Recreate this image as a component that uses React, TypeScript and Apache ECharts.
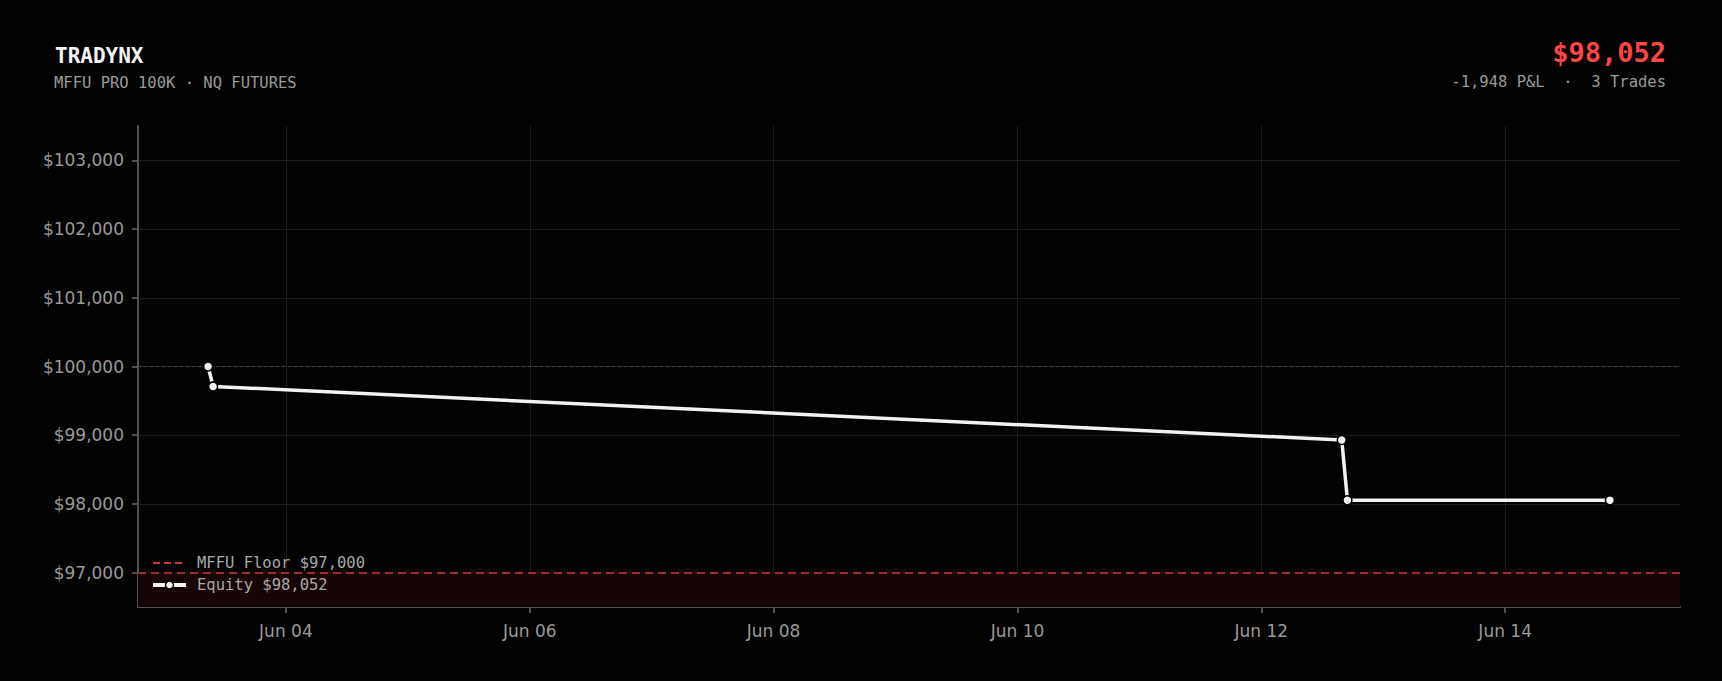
import React, { useEffect, useRef } from 'react';
import * as echarts from 'echarts';

// ---- data ----
const equityTimes = [
  '2025-06-03T08:41:00Z',
  '2025-06-03T09:40:00Z',
  '2025-06-12T15:50:00Z',
  '2025-06-12T16:57:00Z',
  '2025-06-14T20:37:00Z',
];
const equityValues = [100000, 99710, 98930, 98052, 98052];
const tickDates = ['2025-06-04', '2025-06-06', '2025-06-08', '2025-06-10', '2025-06-12', '2025-06-14'];
const yTicks = [97000, 98000, 99000, 100000, 101000, 102000, 103000];
const yMin = 96500;
const yMax = 103500;
const floorValue = 97000;
const startBalance = 100000;
const titleText = 'TRADYNX';
const subtitleText = 'MFFU PRO 100K · NQ FUTURES';
const pnlValue = -1948;
const tradeCount = 3;

const MONTHS = ['Jan', 'Feb', 'Mar', 'Apr', 'May', 'Jun', 'Jul', 'Aug', 'Sep', 'Oct', 'Nov', 'Dec'];
const money = (v: number) => '$' + Math.round(v).toLocaleString('en-US');
const fmtDate = (v: number) => {
  const d = new Date(v);
  return `${MONTHS[d.getUTCMonth()]} ${String(d.getUTCDate()).padStart(2, '0')}`;
};

const times = equityTimes.map((t) => Date.parse(t));
const tStart = times[0];
const tEnd = times[times.length - 1];
const pad = (tEnd - tStart) * 0.05;
const xMin = tStart - pad;
const xMax = tEnd + pad;
const tickTimes = tickDates.map((d) => Date.parse(d + 'T00:00:00Z'));
const lastEquity = equityValues[equityValues.length - 1];

const MONO = '"DejaVu Sans Mono", monospace';
const SANS = '"DejaVu Sans", sans-serif';
const RED = '#c9383b';
const WHITE = '#f2f2f0';
const GRID = '#1c1c1c';
const AXIS = '#505050';
const LABEL = '#9a9a9a';

export default function App() {
  const ref = useRef<HTMLDivElement>(null);
  useEffect(() => {
    document.body.style.margin = '0';
    document.body.style.background = '#020202';
    const chart = echarts.init(ref.current!, undefined, { renderer: 'svg' });
    const floorName = `MFFU Floor ${money(floorValue)}`;
    const equityName = `Equity ${money(lastEquity)}`;
    chart.setOption({
      animation: false,
      backgroundColor: '#020202',
      grid: { left: 138, right: 42, top: 126, bottom: 74, containLabel: false },
      graphic: [
        {
          type: 'text', left: 55, top: 45,
          style: { text: titleText, fill: '#f5f5f5', font: `bold 21px ${MONO}` },
        },
        {
          type: 'text', left: 54, top: 75,
          style: { text: subtitleText, fill: '#9a9a9a', font: `15.5px ${MONO}` },
        },
        {
          type: 'text', right: 56, top: 39,
          style: { text: money(lastEquity), fill: '#ff4545', font: `bold 27px ${MONO}` },
        },
        {
          type: 'text', right: 56, top: 74,
          style: {
            text: `${pnlValue.toLocaleString('en-US')} P&L  ·  ${tradeCount} Trades`,
            fill: '#9a9a9a', font: `15.5px ${MONO}`,
          },
        },
      ],
      legend: {
        orient: 'vertical', left: 146, top: 550,
        itemWidth: 33, itemHeight: 10, itemGap: 6,
        textStyle: {
          color: '#a8a8a8', fontFamily: MONO, fontSize: 15.5, lineHeight: 16, padding: [0, 0, 0, 6],
        },
        data: [
          {
            name: floorName,
            itemStyle: { opacity: 0 },
            lineStyle: { color: RED, width: 2, type: [7, 4] },
          },
          {
            name: equityName,
            lineStyle: { color: WHITE, width: 4 },
            itemStyle: { color: WHITE, borderColor: '#000', borderWidth: 1.5 },
          },
        ],
        selectedMode: false,
      },
      xAxis: {
        type: 'value', min: xMin, max: xMax,
        axisLine: { show: true, lineStyle: { color: AXIS, width: 2 } },
        axisTick: { show: true, length: 6, customValues: tickTimes, lineStyle: { color: AXIS, width: 2 } },
        axisLabel: {
          customValues: tickTimes, formatter: (v: number) => fmtDate(v),
          color: LABEL, fontSize: 17, fontFamily: SANS, margin: 15,
        },
        splitLine: { show: true, lineStyle: { color: GRID, width: 1 } },
      },
      yAxis: {
        type: 'value', min: yMin, max: yMax, interval: 500,
        axisLine: { show: true, lineStyle: { color: AXIS, width: 2 } },
        axisTick: { show: true, length: 6, customValues: yTicks, lineStyle: { color: AXIS, width: 2 } },
        axisLabel: {
          customValues: yTicks, formatter: (v: number) => money(v),
          color: LABEL, fontSize: 17, fontFamily: SANS, margin: 14,
        },
        splitLine: { show: true, lineStyle: { color: GRID, width: 1 } },
      },
      series: [
        {
          name: floorName, type: 'line', data: [], symbol: 'none',
          lineStyle: { color: RED, width: 1.5, type: [8, 5] },
          itemStyle: { color: RED },
          markLine: {
            silent: true, symbol: ['none', 'none'], label: { show: false },
            lineStyle: { color: RED, width: 1.5, type: [8, 5] },
            data: [{ yAxis: floorValue }],
          },
          markArea: {
            silent: true, itemStyle: { color: '#160607' },
            data: [[{ yAxis: yMin }, { yAxis: floorValue }]],
          },
        },
        {
          name: equityName, type: 'line', z: 5,
          data: times.map((t, i) => [t, equityValues[i]]),
          symbol: 'circle', symbolSize: 9, showSymbol: true,
          lineStyle: { color: WHITE, width: 3.5 },
          itemStyle: { color: WHITE, borderColor: '#000', borderWidth: 1.5 },
          markLine: {
            silent: true, symbol: ['none', 'none'], label: { show: false },
            lineStyle: { color: '#4a4a4a', width: 1, type: [3, 3] },
            data: [{ yAxis: startBalance }],
          },
        },
      ],
    });
    return () => chart.dispose();
  }, []);
  return <div ref={ref} style={{ width: 1722, height: 681 }} />;
}
